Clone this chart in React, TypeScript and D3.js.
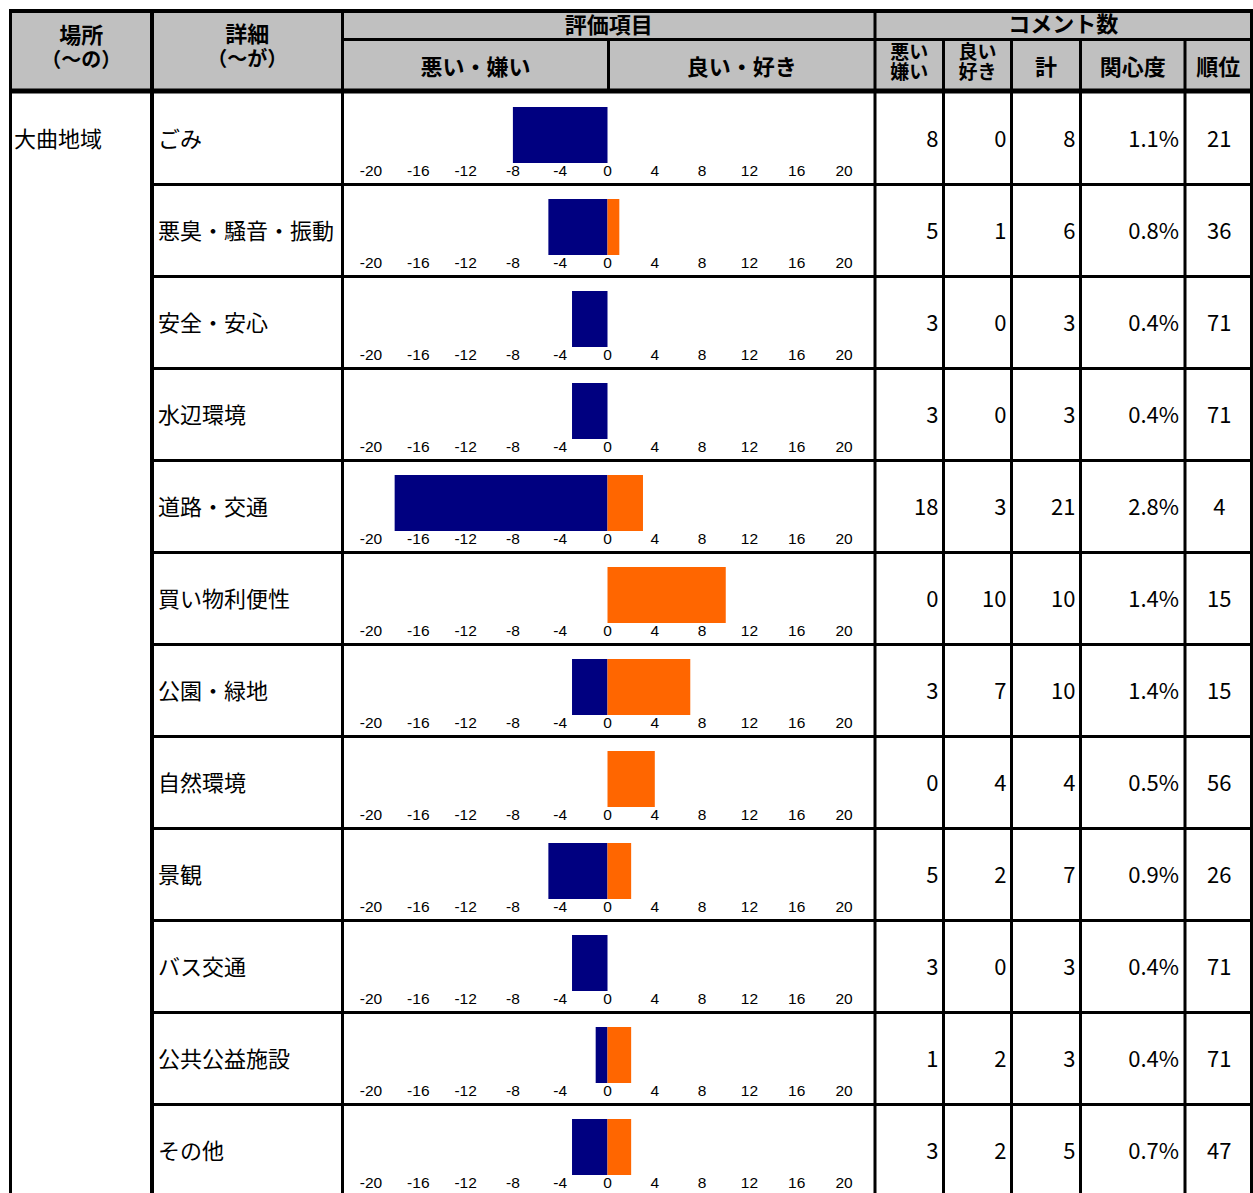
import * as d3 from 'd3'

// 詳細（～が）
const CATEGORIES = [
  'ごみ', '悪臭・騒音・振動', '安全・安心', '水辺環境', '道路・交通', '買い物利便性',
  '公園・緑地', '自然環境', '景観', 'バス交通', '公共公益施設', 'その他'
]
const BAD = [8, 5, 3, 3, 18, 0, 3, 0, 5, 3, 1, 3]
const GOOD = [0, 1, 0, 0, 3, 10, 7, 4, 2, 0, 2, 2]
const TOTAL = [8, 6, 3, 3, 21, 10, 10, 4, 7, 3, 3, 5]
const INTEREST = [1.1, 0.8, 0.4, 0.4, 2.8, 1.4, 1.4, 0.5, 0.9, 0.4, 0.4, 0.7]
const RANK = [21, 36, 71, 71, 4, 15, 15, 56, 26, 71, 71, 47]
const TICKS = [-20, -16, -12, -8, -4, 0, 4, 8, 12, 16, 20]
const PLACE = '大曲地域'

const W = 1253
const H = 1193
const JP = '"Noto Sans CJK JP", sans-serif'
const NAVY = '#000080'
const ORANGE = '#FF6600'
const GRAY = '#C0C0C0'

// column edges: 場所 | 詳細 | 評価項目 | 悪い | 良い | 計 | 関心度 | 順位
const COL = [10.5, 152, 342.5, 875, 943.5, 1011.5, 1080.5, 1185, 1251.5]
const MID = 608.5
const HEAD_MID = 39.5
const HEAD_BOTTOM = 91
const BODY_TOP = 92.5
const ROW_H = 92

export default function App() {
  const x = d3.scaleLinear().domain([-20, 20]).range([371, 844])
  const y = d3.scaleBand<number>()
    .domain(d3.range(CATEGORIES.length))
    .range([BODY_TOP, BODY_TOP + ROW_H * CATEGORIES.length])
    .padding(0)
  const pct = d3.format('.1f')

  const line = (x1: number, y1: number, x2: number, y2: number, w = 3) => (
    <line x1={x1} y1={y1} x2={x2} y2={y2} stroke="#000" strokeWidth={w} />
  )

  const numCols = [BAD, GOOD, TOTAL]

  return (
    <svg width={W} height={H} style={{ position: 'absolute', left: 0, top: 0, display: 'block', background: '#fff' }}>
      {/* header background */}
      <rect x={10} y={11} width={W - 12} height={HEAD_BOTTOM - 11} fill={GRAY} />

      {/* header text */}
      <g fontFamily={JP} fontWeight={700} fontSize={22} fill="#000" textAnchor="middle">
        <text x={(COL[0] + COL[1]) / 2} y={43}>場所</text>
        <text x={(COL[0] + COL[1]) / 2} y={67} fontSize={20}>（～の）</text>
        <text x={(COL[1] + COL[2]) / 2} y={42}>詳細</text>
        <text x={(COL[1] + COL[2]) / 2} y={66} fontSize={20}>（～が）</text>
        <text x={(COL[2] + COL[3]) / 2} y={33}>評価項目</text>
        <text x={(COL[3] + COL[8]) / 2} y={32}>コメント数</text>
        <text x={(COL[2] + MID) / 2} y={74.5}>悪い・嫌い</text>
        <text x={(MID + COL[3]) / 2} y={74.5}>良い・好き</text>
        <text x={(COL[5] + COL[6]) / 2} y={74.5}>計</text>
        <text x={(COL[6] + COL[7]) / 2} y={74.5}>関心度</text>
        <text x={(COL[7] + COL[8]) / 2} y={74.5}>順位</text>
        <g fontSize={19}>
          <text x={(COL[3] + COL[4]) / 2} y={59}>悪い</text>
          <text x={(COL[3] + COL[4]) / 2} y={78.5}>嫌い</text>
          <text x={(COL[4] + COL[5]) / 2} y={59}>良い</text>
          <text x={(COL[4] + COL[5]) / 2} y={78.5}>好き</text>
        </g>
      </g>

      {/* place (merged cell) */}
      <text x={14} y={BODY_TOP + 54.5} fontFamily={JP} fontSize={22}>{PLACE}</text>

      {CATEGORIES.map((c, i) => {
        const top = y(i)!
        return (
          <g key={c}>
            <text x={158} y={top + 54.5} fontFamily={JP} fontSize={22}>{c}</text>
            {BAD[i] > 0 && (
              <rect x={x(-BAD[i])} y={top + 14.5} width={x(0) - x(-BAD[i])} height={56} fill={NAVY} />
            )}
            {GOOD[i] > 0 && (
              <rect x={x(0)} y={top + 14.5} width={x(GOOD[i]) - x(0)} height={56} fill={ORANGE} />
            )}
            <g fontFamily='"Liberation Sans", Arial, sans-serif' fontSize={15.5} textAnchor="middle">
              {TICKS.map(t => (
                <text key={t} x={x(t)} y={top + 83.5}>{t}</text>
              ))}
            </g>
            <g fontFamily={JP} fontSize={22} textAnchor="end">
              {numCols.map((arr, k) => (
                <text key={k} x={COL[k + 4] - 5} y={top + 54.5}>{arr[i]}</text>
              ))}
              <text x={COL[7] - 6} y={top + 54.5}>{pct(INTEREST[i])}%</text>
            </g>
            <text x={(COL[7] + COL[8]) / 2 + 1} y={top + 54.5} fontFamily={JP} fontSize={22} textAnchor="middle">
              {RANK[i]}
            </text>
          </g>
        )
      })}

      {/* grid lines */}
      {line(9, 11, W, 11, 4)}
      {line(COL[2], HEAD_MID, W, HEAD_MID)}
      {line(9, HEAD_BOTTOM, W, HEAD_BOTTOM, 5)}
      {line(MID, HEAD_MID, MID, HEAD_BOTTOM)}
      {CATEGORIES.slice(1).map((c, i) => (
        <g key={c}>{line(COL[1], y(i + 1)!, W, y(i + 1)!)}</g>
      ))}
      {line(COL[0], 9, COL[0], H)}
      {line(COL[1], 9, COL[1], H, 4)}
      {line(COL[2], 9, COL[2], H)}
      {line(COL[3], 9, COL[3], H)}
      {COL.slice(4, 8).map(cx => (
        <g key={cx}>{line(cx, HEAD_MID, cx, H)}</g>
      ))}
      {line(COL[8], 9, COL[8], H)}
    </svg>
  )
}
